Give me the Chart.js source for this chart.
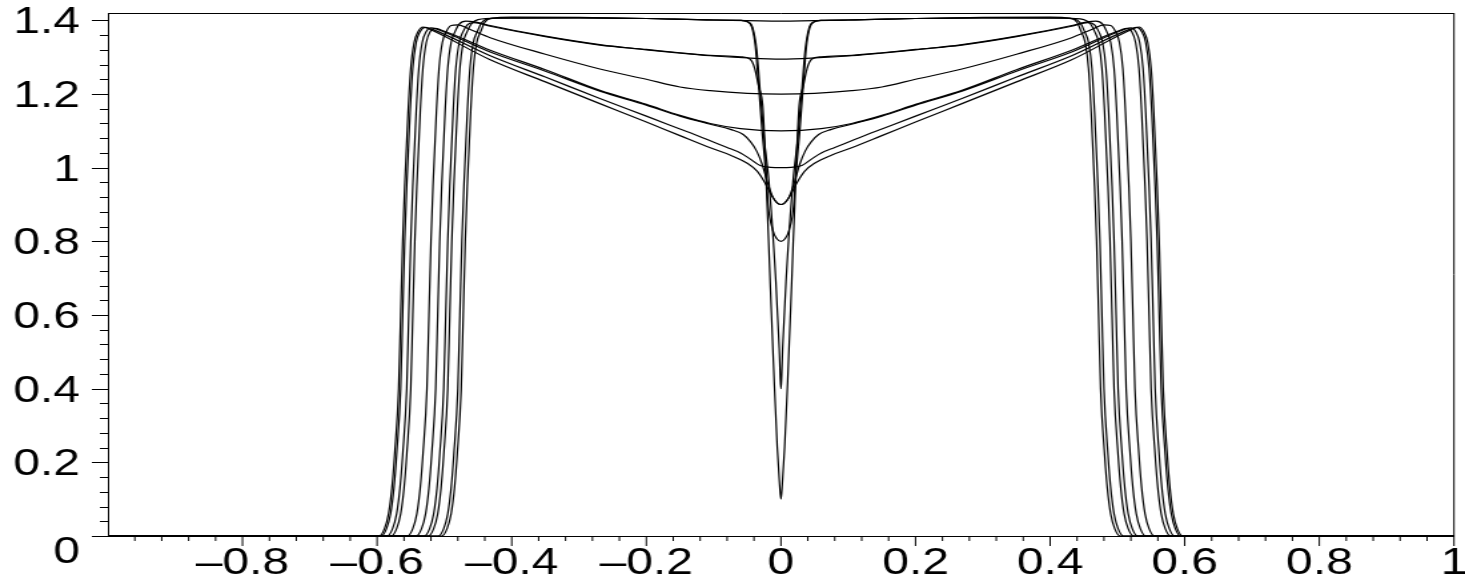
<!DOCTYPE html>
<html>
<head>
<meta charset="utf-8">
<script src="https://cdn.jsdelivr.net/npm/chart.js@4"></script>
<style>
  html, body { margin: 0; padding: 0; background: #fff; overflow: hidden; }
</style>
</head>
<body>
<!-- drawn 1100 wide, then stretched to 1465px like the source picture -->
<canvas id="plot" width="1100" height="583" style="display:block;width:1465px;height:583px"></canvas>
<script>
// axis ticks (major labels every 0.2)
const xTicks = [-1, -0.8, -0.6, -0.4, -0.2, 0, 0.2, 0.4, 0.6, 0.8, 1];
const yTicks = [0, 0.2, 0.4, 0.6, 0.8, 1, 1.2, 1.4];

// profiles, one per centre value as [x, y]
const dip140 = [[-1,0],[-0.504,0],[-0.496,0.02],[-0.49,0.06],[-0.485,0.13],[-0.481,0.22],[-0.475,0.4],[-0.472,0.6],[-0.469,0.8],[-0.466,0.95],[-0.461,1.15],[-0.457,1.27],[-0.452,1.34],[-0.446,1.37],[-0.44,1.395],[-0.43,1.406],[-0.4,1.409],[-0.3,1.408],[-0.2,1.405],[-0.1,1.401],[0,1.398],
  [0.1,1.401],[0.2,1.405],[0.3,1.408],[0.4,1.409],[0.43,1.406],[0.44,1.395],[0.446,1.37],[0.452,1.34],[0.457,1.27],[0.461,1.15],[0.466,0.95],[0.469,0.8],[0.472,0.6],[0.475,0.4],[0.481,0.22],[0.485,0.13],[0.49,0.06],[0.496,0.02],[0.504,0],[1,0]];

const dip130 = [[-1,0],[-0.542,0],[-0.534,0.02],[-0.528,0.06],[-0.523,0.13],[-0.519,0.22],[-0.513,0.4],[-0.51,0.6],[-0.507,0.8],[-0.504,0.95],[-0.499,1.15],[-0.495,1.27],[-0.49,1.34],[-0.484,1.37],[-0.478,1.39],[-0.468,1.398],[-0.455,1.396],[-0.432,1.386],[-0.35,1.357],[-0.269,1.334],[-0.2,1.32],[-0.15,1.311],[-0.105,1.304],[-0.05,1.298],[0,1.295],
  [0.05,1.298],[0.105,1.304],[0.15,1.311],[0.2,1.32],[0.269,1.334],[0.35,1.357],[0.432,1.386],[0.455,1.396],[0.468,1.398],[0.478,1.39],[0.484,1.37],[0.49,1.34],[0.495,1.27],[0.499,1.15],[0.504,0.95],[0.507,0.8],[0.51,0.6],[0.513,0.4],[0.519,0.22],[0.523,0.13],[0.528,0.06],[0.534,0.02],[0.542,0],[1,0]];

const dip120 = [[-1,0],[-0.555,0],[-0.547,0.02],[-0.541,0.06],[-0.536,0.13],[-0.532,0.22],[-0.526,0.4],[-0.523,0.6],[-0.52,0.8],[-0.517,0.95],[-0.512,1.15],[-0.508,1.27],[-0.503,1.34],[-0.497,1.37],[-0.49,1.386],[-0.48,1.388],[-0.465,1.378],[-0.432,1.353],[-0.35,1.308],[-0.269,1.268],[-0.2,1.24],[-0.15,1.219],[-0.105,1.209],[-0.05,1.202],[0,1.2],
  [0.05,1.202],[0.105,1.209],[0.15,1.219],[0.2,1.24],[0.269,1.268],[0.35,1.308],[0.432,1.353],[0.465,1.378],[0.48,1.388],[0.49,1.386],[0.497,1.37],[0.503,1.34],[0.508,1.27],[0.512,1.15],[0.517,0.95],[0.52,0.8],[0.523,0.6],[0.526,0.4],[0.532,0.22],[0.536,0.13],[0.541,0.06],[0.547,0.02],[0.555,0],[1,0]];

const dip110 = [[-1,0],[-0.579,0],[-0.571,0.02],[-0.565,0.06],[-0.56,0.13],[-0.556,0.22],[-0.55,0.4],[-0.547,0.6],[-0.544,0.8],[-0.541,0.95],[-0.536,1.15],[-0.532,1.27],[-0.527,1.34],[-0.521,1.37],[-0.514,1.378],[-0.505,1.374],[-0.432,1.319],[-0.35,1.266],[-0.269,1.21],[-0.2,1.172],[-0.15,1.142],[-0.105,1.12],[-0.06,1.106],[0,1.1],
  [0.06,1.106],[0.105,1.12],[0.15,1.142],[0.2,1.172],[0.269,1.21],[0.35,1.266],[0.432,1.319],[0.505,1.374],[0.514,1.378],[0.521,1.37],[0.527,1.34],[0.532,1.27],[0.536,1.15],[0.541,0.95],[0.544,0.8],[0.547,0.6],[0.55,0.4],[0.556,0.22],[0.56,0.13],[0.565,0.06],[0.571,0.02],[0.579,0],[1,0]];

const dip100 = [[-1,0],[-0.594,0],[-0.586,0.02],[-0.58,0.06],[-0.575,0.13],[-0.571,0.22],[-0.565,0.4],[-0.562,0.6],[-0.559,0.8],[-0.556,0.95],[-0.551,1.15],[-0.547,1.27],[-0.542,1.34],[-0.536,1.37],[-0.529,1.381],[-0.52,1.377],[-0.432,1.304],[-0.35,1.246],[-0.269,1.188],[-0.2,1.14],[-0.15,1.105],[-0.12,1.084],[-0.105,1.073],[-0.08,1.055],[-0.06,1.04],[-0.046,1.024],[-0.031,1.006],[-0.015,1.001],[0,1],
  [0.015,1.001],[0.031,1.006],[0.046,1.024],[0.06,1.04],[0.08,1.055],[0.105,1.073],[0.12,1.084],[0.15,1.105],[0.2,1.14],[0.269,1.188],[0.35,1.246],[0.432,1.304],[0.52,1.377],[0.529,1.381],[0.536,1.37],[0.542,1.34],[0.547,1.27],[0.551,1.15],[0.556,0.95],[0.559,0.8],[0.562,0.6],[0.565,0.4],[0.571,0.22],[0.575,0.13],[0.58,0.06],[0.586,0.02],[0.594,0],[1,0]];

const dip090a = [[-1,0],[-0.585,0],[-0.577,0.02],[-0.571,0.06],[-0.566,0.13],[-0.562,0.22],[-0.556,0.4],[-0.553,0.6],[-0.55,0.8],[-0.547,0.95],[-0.542,1.15],[-0.538,1.27],[-0.533,1.34],[-0.527,1.37],[-0.52,1.38],[-0.51,1.375],[-0.432,1.314],[-0.35,1.262],[-0.269,1.208],[-0.2,1.17],[-0.15,1.14],[-0.105,1.118],[-0.075,1.104],[-0.056,1.09],[-0.045,1.07],[-0.036,1.045],[-0.028,1.01],[-0.02,0.96],[-0.012,0.92],[-0.005,0.903],[0,0.9],
  [0.005,0.903],[0.012,0.92],[0.02,0.96],[0.028,1.01],[0.036,1.045],[0.045,1.07],[0.056,1.09],[0.075,1.104],[0.105,1.118],[0.15,1.14],[0.2,1.17],[0.269,1.208],[0.35,1.262],[0.432,1.314],[0.51,1.375],[0.52,1.38],[0.527,1.37],[0.533,1.34],[0.538,1.27],[0.542,1.15],[0.547,0.95],[0.55,0.8],[0.553,0.6],[0.556,0.4],[0.562,0.22],[0.566,0.13],[0.571,0.06],[0.577,0.02],[0.585,0],[1,0]];

const dip090b = [[-1,0],[-0.597,0],[-0.589,0.02],[-0.583,0.06],[-0.578,0.13],[-0.574,0.22],[-0.568,0.4],[-0.565,0.6],[-0.562,0.8],[-0.559,0.95],[-0.554,1.15],[-0.55,1.27],[-0.545,1.34],[-0.539,1.37],[-0.532,1.382],[-0.522,1.376],[-0.432,1.293],[-0.35,1.233],[-0.269,1.174],[-0.2,1.124],[-0.15,1.087],[-0.105,1.054],[-0.075,1.034],[-0.05,1.012],[-0.035,0.99],[-0.024,0.96],[-0.014,0.925],[-0.006,0.905],[0,0.9],
  [0.006,0.905],[0.014,0.925],[0.024,0.96],[0.035,0.99],[0.05,1.012],[0.075,1.034],[0.105,1.054],[0.15,1.087],[0.2,1.124],[0.269,1.174],[0.35,1.233],[0.432,1.293],[0.522,1.376],[0.532,1.382],[0.539,1.37],[0.545,1.34],[0.55,1.27],[0.554,1.15],[0.559,0.95],[0.562,0.8],[0.565,0.6],[0.568,0.4],[0.574,0.22],[0.578,0.13],[0.583,0.06],[0.589,0.02],[0.597,0],[1,0]];

const dip080 = [[-1,0],[-0.53,0],[-0.522,0.02],[-0.516,0.06],[-0.511,0.13],[-0.507,0.22],[-0.501,0.4],[-0.498,0.6],[-0.495,0.8],[-0.492,0.95],[-0.487,1.15],[-0.483,1.27],[-0.478,1.34],[-0.472,1.37],[-0.466,1.388],[-0.456,1.394],[-0.432,1.384],[-0.35,1.356],[-0.269,1.333],[-0.2,1.321],[-0.15,1.312],[-0.105,1.305],[-0.06,1.301],[-0.046,1.295],[-0.039,1.27],[-0.033,1.22],[-0.027,1.168],[-0.023,1.03],[-0.019,0.9],[-0.012,0.83],[-0.006,0.807],[0,0.8],
  [0.006,0.807],[0.012,0.83],[0.019,0.9],[0.023,1.03],[0.027,1.168],[0.033,1.22],[0.039,1.27],[0.046,1.295],[0.06,1.301],[0.105,1.305],[0.15,1.312],[0.2,1.321],[0.269,1.333],[0.35,1.356],[0.432,1.384],[0.456,1.394],[0.466,1.388],[0.472,1.37],[0.478,1.34],[0.483,1.27],[0.487,1.15],[0.492,0.95],[0.495,0.8],[0.498,0.6],[0.501,0.4],[0.507,0.22],[0.511,0.13],[0.516,0.06],[0.522,0.02],[0.53,0],[1,0]];

const dip040 = [[-1,0],[-0.524,0],[-0.516,0.02],[-0.51,0.06],[-0.505,0.13],[-0.501,0.22],[-0.495,0.4],[-0.492,0.6],[-0.489,0.8],[-0.486,0.95],[-0.481,1.15],[-0.477,1.27],[-0.472,1.34],[-0.466,1.37],[-0.46,1.39],[-0.45,1.402],[-0.42,1.406],[-0.3,1.407],[-0.2,1.405],[-0.1,1.401],[-0.06,1.4],[-0.049,1.396],[-0.042,1.38],[-0.036,1.32],[-0.031,1.21],[-0.025,1.08],[-0.018,0.965],[-0.0075,0.69],[-0.0025,0.51],[-0.001,0.43],[0,0.4],
  [0.001,0.43],[0.0025,0.51],[0.0075,0.69],[0.018,0.965],[0.025,1.08],[0.031,1.21],[0.036,1.32],[0.042,1.38],[0.049,1.396],[0.06,1.4],[0.1,1.401],[0.2,1.405],[0.3,1.407],[0.42,1.406],[0.45,1.402],[0.46,1.39],[0.466,1.37],[0.472,1.34],[0.477,1.27],[0.481,1.15],[0.486,0.95],[0.489,0.8],[0.492,0.6],[0.495,0.4],[0.501,0.22],[0.505,0.13],[0.51,0.06],[0.516,0.02],[0.524,0],[1,0]];

const dip010 = [[-1,0],[-0.509,0],[-0.501,0.02],[-0.495,0.06],[-0.49,0.13],[-0.486,0.22],[-0.48,0.4],[-0.477,0.6],[-0.474,0.8],[-0.471,0.95],[-0.466,1.15],[-0.462,1.27],[-0.457,1.34],[-0.451,1.37],[-0.445,1.393],[-0.435,1.404],[-0.4,1.407],[-0.3,1.407],[-0.2,1.405],[-0.1,1.401],[-0.06,1.4],[-0.05,1.396],[-0.043,1.38],[-0.038,1.33],[-0.033,1.22],[-0.028,1.1],[-0.022,0.965],[-0.016,0.69],[-0.01,0.42],[-0.0055,0.242],[-0.002,0.14],[0,0.1],
  [0.002,0.14],[0.0055,0.242],[0.01,0.42],[0.016,0.69],[0.022,0.965],[0.028,1.1],[0.033,1.22],[0.038,1.33],[0.043,1.38],[0.05,1.396],[0.06,1.4],[0.1,1.401],[0.2,1.405],[0.3,1.407],[0.4,1.407],[0.435,1.404],[0.445,1.393],[0.451,1.37],[0.457,1.34],[0.462,1.27],[0.466,1.15],[0.471,0.95],[0.474,0.8],[0.477,0.6],[0.48,0.4],[0.486,0.22],[0.49,0.13],[0.495,0.06],[0.501,0.02],[0.509,0],[1,0]];

const curves = [dip140, dip130, dip120, dip110, dip100, dip090a, dip090b, dip080, dip040, dip010];

const FONT = "'Liberation Sans', Arial, Helvetica, sans-serif";

// minor ticks every 0.04, long ones on the labelled values
const axisTicks = {
  id: 'axisTicks',
  afterDraw(chart) {
    const { ctx, chartArea: a, scales: { x, y } } = chart;
    ctx.save();
    ctx.strokeStyle = '#000';
    ctx.lineWidth = 1;
    ctx.beginPath();
    // box: top and right sides
    ctx.moveTo(a.left, a.top + 0.5); ctx.lineTo(a.right, a.top + 0.5);
    ctx.moveTo(a.right, a.top); ctx.lineTo(a.right, a.bottom);
    for (let i = 0; i <= 35; i++) {
      const py = Math.round(y.getPixelForValue(i * 0.04)) + 0.5;
      const len = i % 5 === 0 ? 12 : 6;
      ctx.moveTo(a.left - len, py); ctx.lineTo(a.left, py);
    }
    for (let i = 1; i <= 50; i++) {
      const px = x.getPixelForValue(-1 + i * 0.04);
      const len = i % 5 === 0 ? 10 : 5;
      ctx.moveTo(px, a.bottom); ctx.lineTo(px, a.bottom + len);
    }
    ctx.stroke();
    ctx.restore();
  }
};

const fmt = v => String(Math.round(v * 10) / 10);

new Chart(document.getElementById('plot'), {
  type: 'scatter',
  data: {
    datasets: curves.map(pts => ({
      data: pts.map(([x, y]) => ({ x, y })),
      showLine: true,
      borderColor: '#000',
      borderWidth: 1.2,
      pointRadius: 0,
      cubicInterpolationMode: 'monotone',
      clip: false
    }))
  },
  options: {
    responsive: false,
    animation: false,
    devicePixelRatio: 1,
    layout: { padding: { top: 13, right: 8.3, left: 0, bottom: 0 } },
    plugins: { legend: { display: false }, tooltip: { enabled: false } },
    scales: {
      x: {
        type: 'linear', min: -1, max: 1,
        grid: { display: false, drawTicks: false },
        border: { display: true, color: '#000', width: 1 },
        afterBuildTicks: s => { s.ticks = xTicks.map(v => ({ value: v })); },
        ticks: {
          autoSkip: false, maxRotation: 0, padding: 6, color: '#000',
          font: { family: FONT, size: 36, lineHeight: 1.2 },
          callback: v => {
            if (v <= -0.99) return '';
            const s = fmt(Math.abs(v));
            return v < -0.01 ? '\u2013' + s : s;
          }
        },
        afterFit: s => { s.height = 47; s.paddingLeft = 0; s.paddingRight = 0; }
      },
      y: {
        type: 'linear', min: 0, max: 1.42,
        grid: { display: false, drawTicks: false },
        border: { display: true, color: '#000', width: 1 },
        afterBuildTicks: s => { s.ticks = yTicks.map(v => ({ value: v })); },
        ticks: {
          padding: 21, labelOffset: 3, color: '#000',
          font: { family: FONT, size: 36, lineHeight: 0.8 },
          callback: v => (Math.abs(v) < 1e-9 ? ['', '0'] : fmt(v))
        },
        afterFit: s => { s.width = 81; s.paddingTop = 0; s.paddingBottom = 0; }
      }
    }
  },
  plugins: [axisTicks]
});
</script>
</body>
</html>
